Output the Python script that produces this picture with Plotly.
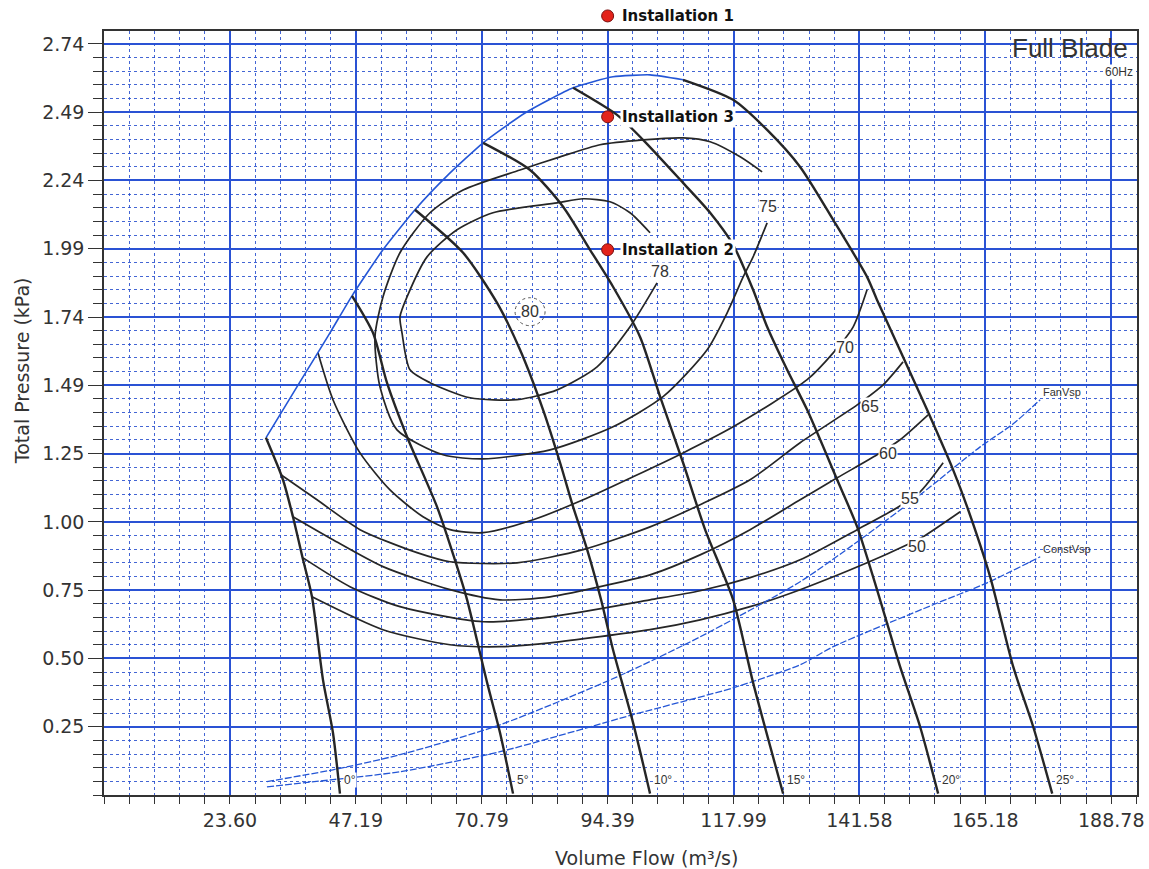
import plotly.graph_objects as go

# ---------------- axis scales ----------------
X_STEP = 23.597      # m3/s per major division (50 000 cfm)
Y_STEP = 0.249089    # kPa per major division (1 inH2O)
X_TICK_LABELS = ["23.60", "47.19", "70.79", "94.39", "117.99", "141.58", "165.18", "188.78"]
Y_TICK_LABELS = ["0.25", "0.50", "0.75", "1.00", "1.25", "1.49", "1.74", "1.99", "2.24", "2.49", "2.74"]
X_MAX = 193.6
Y_MAX = 2.787

# ---------------- stall envelope (blue) ----------------
ENV_Q = [30.35, 36.73, 42.35, 46.48, 52.28, 58.29, 64.48, 71.05, 78.91, 87.92, 95.40, 102.34, 108.53]
ENV_P = [1.303, 1.507, 1.686, 1.821, 1.989, 2.135, 2.262, 2.379, 2.488, 2.580, 2.620, 2.627, 2.609]

# ---------------- blade angle curves ----------------
B0_Q = [30.35, 33.54, 35.41, 37.31, 38.98, 41.04, 42.91, 44.22]
B0_P = [1.303, 1.150, 1.015, 0.858, 0.723, 0.420, 0.227, 0.005]
B5_Q = [46.48, 50.41, 53.03, 56.79, 62.42, 66.17, 68.05, 71.80, 74.22, 76.66]
B5_P = [1.821, 1.686, 1.504, 1.307, 1.051, 0.833, 0.712, 0.410, 0.227, 0.005]
B10_Q = [58.29, 67.30, 73.67, 77.97, 82.29, 85.48, 87.92, 90.55, 93.16, 95.40, 99.15, 102.34]
B10_P = [2.135, 1.978, 1.795, 1.624, 1.405, 1.212, 1.051, 0.895, 0.712, 0.530, 0.264, 0.005]
B15_Q = [71.05, 79.85, 86.04, 91.09, 95.40, 100.47, 104.22, 108.53, 112.66, 117.91, 121.65, 127.28]
B15_P = [2.379, 2.280, 2.146, 1.989, 1.854, 1.671, 1.453, 1.212, 0.968, 0.712, 0.410, 0.005]
B20_Q = [87.92, 96.15, 101.03, 108.53, 113.60, 117.91, 121.65, 124.28, 128.03, 131.78, 137.41, 141.16,
         145.45, 149.20, 152.95, 156.33]
B20_P = [2.580, 2.481, 2.390, 2.233, 2.124, 2.007, 1.843, 1.708, 1.551, 1.405, 1.150, 0.978,
         0.712, 0.468, 0.249, 0.005]
B25_Q = [108.53, 117.91, 124.28, 130.47, 136.66, 143.01, 144.88, 149.76, 154.26, 159.14, 161.77, 166.08,
         170.40, 174.15, 177.71]
B25_P = [2.609, 2.536, 2.426, 2.291, 2.098, 1.890, 1.806, 1.598, 1.405, 1.186, 1.051, 0.796,
         0.468, 0.249, 0.005]
BLADE_NAMES = ["0°", "5°", "10°", "15°", "20°", "25°"]

# ---------------- efficiency contours (%) ----------------
E78_Q = [102.34, 98.59, 94.84, 89.80, 84.92, 72.91, 66.17, 60.54, 56.79, 55.47, 55.85, 57.35, 61.10,
         68.61, 77.41, 84.92, 92.41, 98.59, 103.65]
E78_P = [2.051, 2.124, 2.164, 2.175, 2.160, 2.124, 2.062, 1.963, 1.817, 1.744, 1.686, 1.551, 1.504,
         1.449, 1.442, 1.478, 1.562, 1.708, 1.868]
E75_Q = [123.34, 119.22, 113.60, 108.53, 101.03, 92.97, 85.48, 77.97, 67.30, 61.10, 55.47, 52.28, 50.78,
         51.72, 54.91, 63.54, 71.05, 83.60, 95.40, 104.78, 113.04, 116.79, 119.79, 121.65, 124.28]
E75_P = [2.273, 2.328, 2.383, 2.397, 2.390, 2.372, 2.328, 2.280, 2.207, 2.124, 1.978, 1.817, 1.671,
         1.489, 1.332, 1.241, 1.226, 1.259, 1.343, 1.453, 1.624, 1.759, 1.890, 1.963, 2.087]
E70_Q = [40.10, 42.91, 47.98, 53.60, 59.79, 64.86, 71.05, 80.42, 89.80, 99.15, 108.53, 117.91, 131.78,
         136.66, 140.41, 143.01]
E70_P = [1.613, 1.442, 1.248, 1.113, 1.015, 0.968, 0.957, 1.004, 1.077, 1.161, 1.248, 1.343, 1.515,
         1.613, 1.708, 1.843]
E65_Q = [33.16, 39.92, 47.98, 58.67, 64.86, 77.41, 89.80, 102.34, 111.72, 121.09, 130.47, 141.16, 146.01, 149.76]
E65_P = [1.168, 1.077, 0.968, 0.884, 0.851, 0.847, 0.895, 0.978, 1.059, 1.150, 1.285, 1.423, 1.496, 1.580]
E60_Q = [35.41, 42.91, 52.28, 64.86, 74.22, 83.60, 96.15, 102.34, 111.72, 121.09, 130.47, 137.41, 144.88,
         149.20, 154.45]
E60_P = [1.015, 0.931, 0.833, 0.749, 0.712, 0.723, 0.774, 0.803, 0.876, 0.968, 1.077, 1.157, 1.241,
         1.296, 1.387]
E55_Q = [37.31, 46.10, 55.47, 71.05, 83.60, 102.34, 111.72, 121.09, 130.47, 141.16, 148.63, 152.95, 157.27]
E55_P = [0.865, 0.760, 0.687, 0.632, 0.650, 0.712, 0.745, 0.793, 0.858, 0.968, 1.048, 1.106, 1.212]
E50_Q = [38.98, 52.28, 64.86, 74.22, 83.60, 102.34, 111.72, 121.09, 130.47, 143.01, 150.51, 153.51, 160.46]
E50_P = [0.723, 0.603, 0.548, 0.541, 0.555, 0.603, 0.639, 0.687, 0.749, 0.847, 0.913, 0.942, 1.033]

EFF_LABELS = ["80", "78", "75", "70", "65", "60", "55", "50"]
EFF_LABEL_Q = [79.85, 104.22, 124.47, 138.87, 143.58, 146.94, 151.07, 152.39]
EFF_LABEL_P = [1.763, 1.908, 2.146, 1.631, 1.416, 1.245, 1.081, 0.906]

# ---------------- system curves ----------------
FAN_Q = [30.54, 42.91, 55.47, 74.22, 96.15, 111.72, 130.47, 141.69, 152.95, 164.21, 170.40, 175.46]
FAN_P = [0.049, 0.092, 0.147, 0.256, 0.431, 0.577, 0.778, 0.931, 1.095, 1.270, 1.354, 1.442]
CONST_Q = [30.54, 42.91, 55.47, 74.22, 99.15, 117.91, 130.47, 136.66, 155.39, 165.52, 175.46]
CONST_P = [0.030, 0.056, 0.085, 0.158, 0.293, 0.391, 0.475, 0.541, 0.694, 0.774, 0.869]

# ---------------- installations ----------------
INST_NAMES = ["Installation 1", "Installation 2", "Installation 3"]
INST_Q = [94.39, 94.39, 94.39]
INST_P = [2.842, 1.989, 2.474]

BLADE_LABEL_P = 0.056

# ======================================================
fig = go.Figure()

BLACK = "#262626"
BLUE_LINE = "#2456d6"

def add_line(q, p, color, width, dash="solid", smoothing=0.7):
    fig.add_trace(go.Scatter(x=q, y=p, mode="lines",
                             line=dict(color=color, width=width, dash=dash,
                                       shape="spline", smoothing=smoothing),
                             hoverinfo="skip", showlegend=False))

# efficiency contours
for q, p in [(E78_Q, E78_P), (E75_Q, E75_P), (E70_Q, E70_P), (E65_Q, E65_P),
             (E60_Q, E60_P), (E55_Q, E55_P), (E50_Q, E50_P)]:
    add_line(q, p, BLACK, 1.7)

# system curves
add_line(FAN_Q, FAN_P, BLUE_LINE, 1.3, dash="7px,2px")
add_line(CONST_Q, CONST_P, BLUE_LINE, 1.3, dash="7px,2px")

# envelope
add_line(ENV_Q, ENV_P, BLUE_LINE, 1.6, smoothing=0.5)

# blade curves
blades = [(B0_Q, B0_P), (B5_Q, B5_P), (B10_Q, B10_P), (B15_Q, B15_P), (B20_Q, B20_P), (B25_Q, B25_P)]
for q, p in blades:
    add_line(q, p, BLACK, 2.4)

# installations: points inside the axis range as a trace, points above it
# (in the top margin) mapped through the same linear y scale to paper units
annotations = []
shapes = []
in_q = [q for q, p in zip(INST_Q, INST_P) if p <= Y_MAX]
in_p = [p for p in INST_P if p <= Y_MAX]
fig.add_trace(go.Scatter(x=in_q, y=in_p, mode="markers",
                         marker=dict(size=12, color="#e3231b", line=dict(color="#7a1010", width=1)),
                         hoverinfo="skip", showlegend=False))
for name, q, p in zip(INST_NAMES, INST_Q, INST_P):
    if p <= Y_MAX:
        yref, yv = "y", p
    else:
        yref, yv = "paper", p / Y_MAX
        shapes.append(dict(type="circle", xref="x", yref="paper", xsizemode="pixel", ysizemode="pixel",
                           xanchor=q, yanchor=yv, x0=-6, x1=6, y0=-6, y1=6,
                           fillcolor="#e3231b", line=dict(color="#7a1010", width=1), layer="above"))
    annotations.append(dict(x=q, y=yv, xref="x", yref=yref, text="<b>" + name + "</b>",
                            showarrow=False, xanchor="left", yanchor="middle", xshift=12,
                            font=dict(family="DejaVu Sans", size=15, color="#111111"),
                            bgcolor="white", borderpad=1))

for lab, q, p in zip(EFF_LABELS, EFF_LABEL_Q, EFF_LABEL_P):
    annotations.append(dict(x=q, y=p, xref="x", yref="y", text=lab, showarrow=False,
                            font=dict(family="Liberation Sans", size=16, color="#333333"),
                            bgcolor="white", borderpad=0))

for lab, (q, p) in zip(BLADE_NAMES, blades):
    annotations.append(dict(x=q[-1], y=BLADE_LABEL_P, xref="x", yref="y", text=lab, showarrow=False,
                            xanchor="left", yanchor="middle", xshift=3,
                            font=dict(family="Liberation Sans", size=12, color="#333333"),
                            bgcolor="white", borderpad=0))

annotations.append(dict(x=FAN_Q[-1], y=FAN_P[-1], xref="x", yref="y", text="FanVsp", showarrow=False,
                        xanchor="left", yanchor="bottom", xshift=1,
                        font=dict(family="Liberation Sans", size=11, color="#333333")))
annotations.append(dict(x=CONST_Q[-1], y=CONST_P[-1], xref="x", yref="y", text="ConstVsp", showarrow=False,
                        xanchor="left", yanchor="bottom", xshift=1,
                        font=dict(family="Liberation Sans", size=11, color="#333333")))

annotations.append(dict(x=0.993, y=0.978, xref="paper", yref="paper", text="Full Blade", showarrow=False,
                        xanchor="right", yanchor="middle",
                        font=dict(family="Liberation Sans", size=26, color="#333333")))
annotations.append(dict(x=0.997, y=0.946, xref="paper", yref="paper", text="60Hz", showarrow=False,
                        xanchor="right", yanchor="middle",
                        font=dict(family="Liberation Sans", size=12, color="#333333"),
                        bgcolor="white", borderpad=0))

annotations.append(dict(x=0.525, y=-0.083, xref="paper", yref="paper", text="Volume Flow (m³/s)",
                        showarrow=False, xanchor="center", yanchor="middle",
                        font=dict(family="DejaVu Sans", size=19, color="#333333")))
annotations.append(dict(x=-0.0794, y=0.556, xref="paper", yref="paper", text="Total Pressure (kPa)",
                        showarrow=False, xanchor="center", yanchor="middle", textangle=-90,
                        font=dict(family="DejaVu Sans", size=19, color="#333333")))

shapes.append(dict(type="circle", xref="x", yref="y", xsizemode="pixel", ysizemode="pixel",
                   xanchor=EFF_LABEL_Q[0], yanchor=EFF_LABEL_P[0], x0=-15, x1=15, y0=-14, y1=14,
                   line=dict(color="#555555", width=1, dash="dot"), layer="above"))

GRID_MAJOR = "#2a52d4"
GRID_MINOR = "rgba(35,75,205,0.85)"

fig.update_layout(
    width=1149, height=869,
    margin=dict(l=104, r=12, t=31, b=74, autoexpand=False),
    paper_bgcolor="white", plot_bgcolor="white",
    annotations=annotations, shapes=shapes,
    xaxis=dict(range=[0, X_MAX], tickmode="array", automargin=False,
               tickvals=[X_STEP * (i + 1) for i in range(len(X_TICK_LABELS))],
               ticktext=X_TICK_LABELS, ticks="outside", ticklen=7, tickcolor="#333333",
               tickfont=dict(family="DejaVu Sans", size=19, color="#333333"),
               showgrid=True, gridcolor=GRID_MAJOR, gridwidth=1.5,
               minor=dict(dtick=X_STEP / 5, tick0=0, ticks="outside", ticklen=7, tickcolor="#333333",
                          showgrid=True, gridcolor=GRID_MINOR, gridwidth=1.3, griddash="dot"),
               showline=True, linecolor="#333333", linewidth=1.5, mirror=True, zeroline=False),
    yaxis=dict(range=[0, Y_MAX], tickmode="array", automargin=False,
               tickvals=[Y_STEP * (i + 1) for i in range(len(Y_TICK_LABELS))],
               ticktext=Y_TICK_LABELS, ticks="outside", ticklen=14, tickcolor="#333333",
               tickfont=dict(family="DejaVu Sans", size=19, color="#333333"),
               showgrid=True, gridcolor=GRID_MAJOR, gridwidth=1.5,
               minor=dict(dtick=Y_STEP / 5, tick0=0, ticks="outside", ticklen=9, tickcolor="#333333",
                          showgrid=True, gridcolor=GRID_MINOR, gridwidth=1.3, griddash="dot"),
               showline=True, linecolor="#333333", linewidth=1.5, mirror=True, zeroline=False),
)

fig.write_html("out.html", config={"displayModeBar": False},
               post_script="document.body.style.margin='0';document.body.style.overflow='hidden';")
